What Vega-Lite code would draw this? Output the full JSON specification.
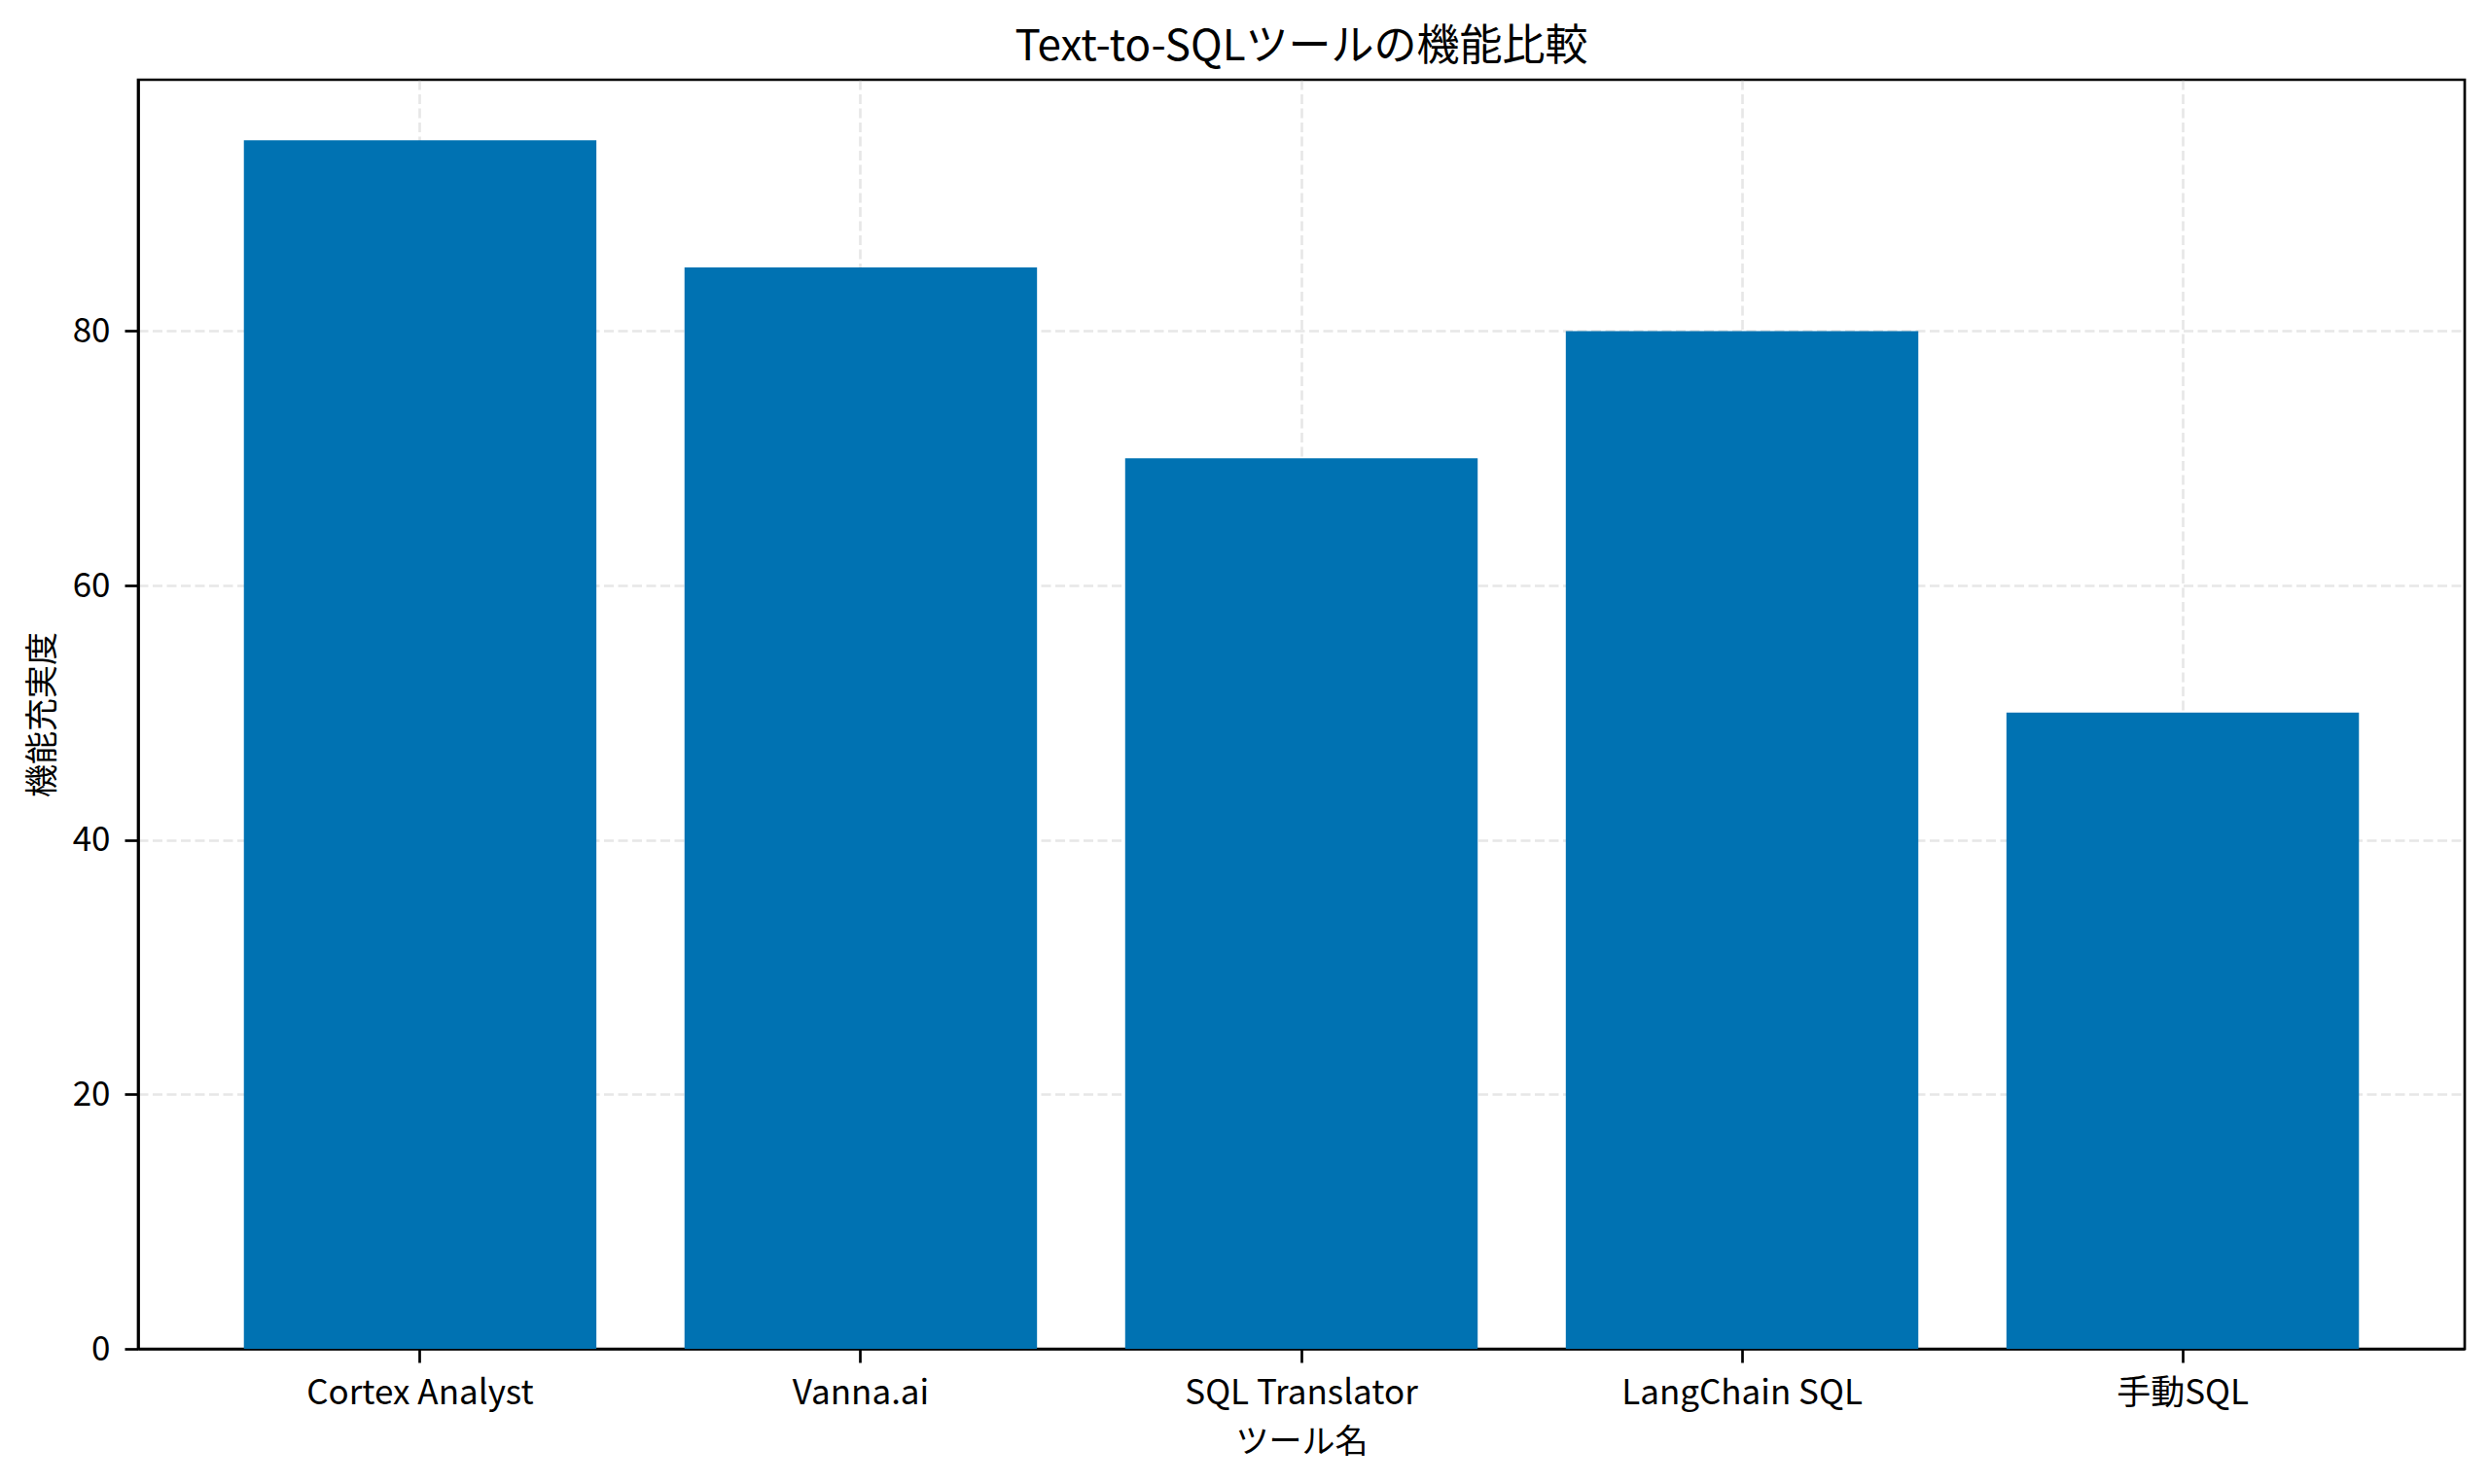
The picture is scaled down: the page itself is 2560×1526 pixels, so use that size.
{
  "$schema": "https://vega.github.io/schema/vega-lite/v6.json",
  "description": "Text-to-SQL tool feature comparison",
  "width": 2392,
  "height": 1305,
  "autosize": {"type": "none"},
  "padding": {"left": 142, "top": 82, "right": 26, "bottom": 139},
  "background": "white",
  "title": {
    "text": "Text-to-SQLツールの機能比較",
    "font": "Noto Sans CJK JP",
    "fontSize": 44,
    "fontWeight": "normal",
    "color": "black",
    "anchor": "middle",
    "baseline": "alphabetic",
    "offset": -24
  },
  "config": {
    "view": {"stroke": "black", "strokeWidth": 2.7},
    "font": "Noto Sans CJK JP",
    "axis": {
      "labelFont": "Noto Sans CJK JP",
      "titleFont": "Noto Sans CJK JP",
      "labelFontSize": 35,
      "titleFontSize": 34,
      "titleFontWeight": "normal",
      "labelColor": "black",
      "titleColor": "black",
      "labelLimit": 0,
      "domainColor": "black",
      "domainWidth": 2.7,
      "tickColor": "black",
      "tickWidth": 2.7,
      "tickSize": 14,
      "grid": true,
      "gridColor": "#b0b0b0",
      "gridOpacity": 0.3,
      "gridWidth": 2.7,
      "gridDash": [10, 4.5],
      "zindex": 1
    }
  },
  "data": {
    "values": [
      {"tool": "Cortex Analyst", "score": 95},
      {"tool": "Vanna.ai", "score": 85},
      {"tool": "SQL Translator", "score": 70},
      {"tool": "LangChain SQL", "score": 80},
      {"tool": "手動SQL", "score": 50}
    ]
  },
  "mark": {"type": "bar", "color": "#0072B2"},
  "encoding": {
    "x": {
      "field": "tool",
      "type": "nominal",
      "sort": null,
      "scale": {"paddingInner": 0.2, "paddingOuter": 0.24},
      "axis": {
        "title": "ツール名",
        "labelAngle": 0,
        "labelPadding": 14,
        "titlePadding": 16,
        "bandPosition": 0.5
      }
    },
    "y": {
      "field": "score",
      "type": "quantitative",
      "scale": {"domain": [0, 99.75], "nice": false, "zero": true},
      "axis": {
        "title": "機能充実度",
        "values": [0, 20, 40, 60, 80],
        "labelPadding": 15,
        "titlePadding": 13
      }
    }
  }
}
